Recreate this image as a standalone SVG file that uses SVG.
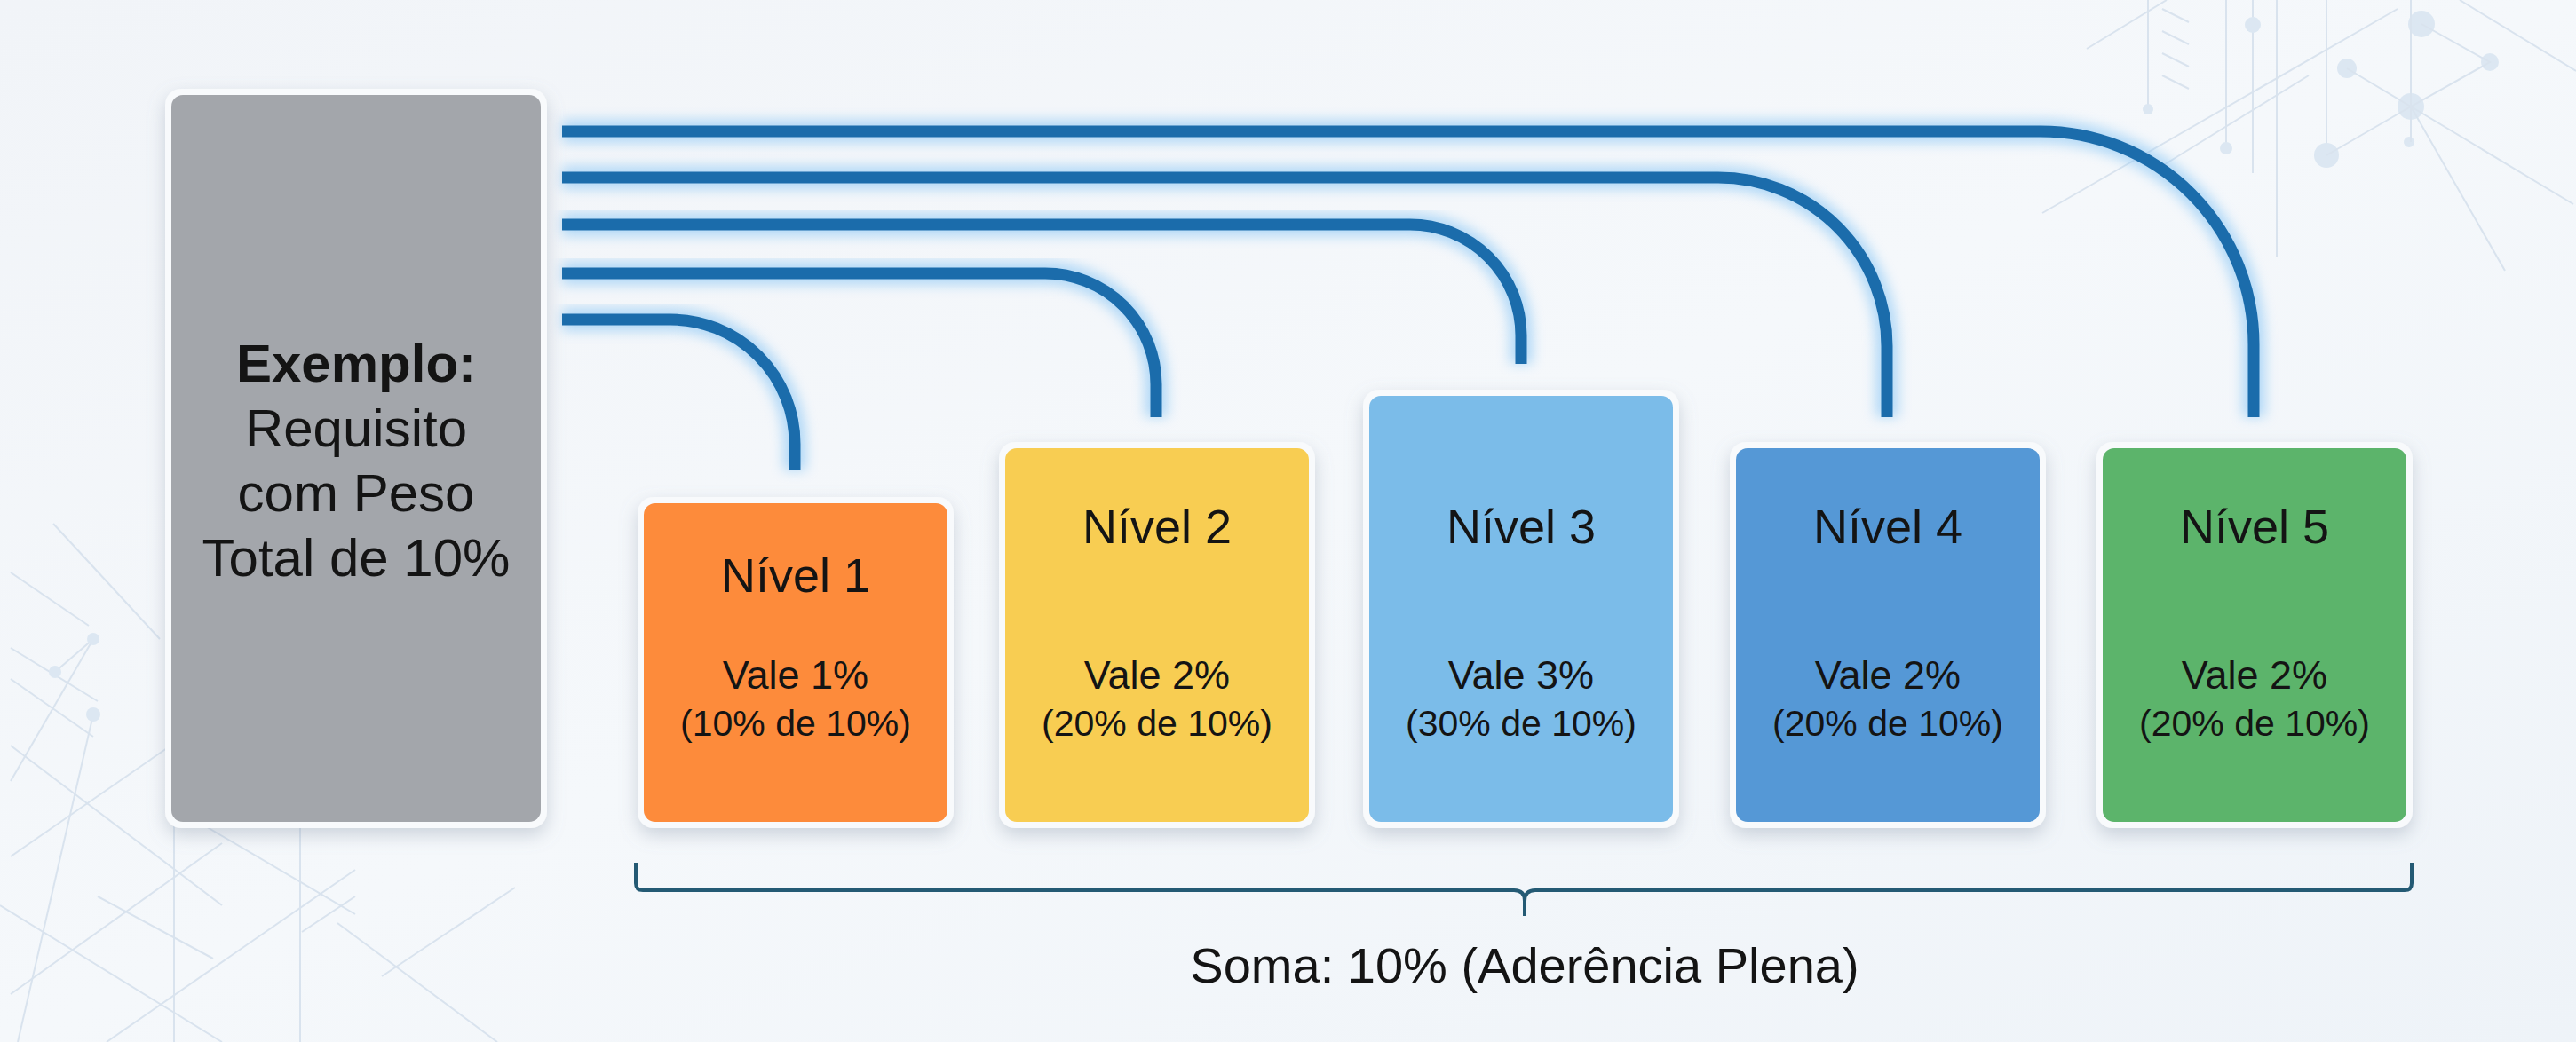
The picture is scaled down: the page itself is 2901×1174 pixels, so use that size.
<svg xmlns="http://www.w3.org/2000/svg" width="2901" height="1174" viewBox="0 0 2901 1174">
<defs>
<linearGradient id="bg" x1="0" y1="0" x2="1" y2="1">
<stop offset="0" stop-color="#f1f4f8"/>
<stop offset="0.5" stop-color="#f5f8fb"/>
<stop offset="1" stop-color="#eef3f8"/>
</linearGradient>
<filter id="shadow" x="-20%" y="-20%" width="140%" height="140%">
<feDropShadow dx="0" dy="8" stdDeviation="10" flood-color="#7f8ea3" flood-opacity="0.35"/>
</filter>
<filter id="glow" x="-10%" y="-10%" width="120%" height="120%">
<feGaussianBlur stdDeviation="7"/>
</filter>
<style>
.deco{stroke:#d9e3ee;stroke-width:2;fill:none}
.dot{fill:#dce7f2}
.rim{fill:#f8fafc;filter:url(#shadow)}
.lbl{font-family:"Liberation Sans",Arial,sans-serif;fill:#141414;text-anchor:middle}
.title{font-size:54px}
.val{font-size:45px}
.sub{font-size:41px}
.main{font-size:60px}
.conn{fill:none;stroke:#1b6cab;stroke-width:13}
.connglow{fill:none;stroke:#7cc0f4;stroke-width:26;opacity:0.55;filter:url(#glow)}
</style>
</defs>
<rect x="0" y="0" width="2901" height="1174" fill="url(#bg)"/>
<g id="background">
<line class="deco" x1="2419" y1="0" x2="2419" y2="123"/>
<circle class="dot" cx="2419" cy="123" r="6"/>
<line class="deco" x1="2507" y1="0" x2="2507" y2="167"/>
<circle class="dot" cx="2507" cy="167" r="7"/>
<line class="deco" x1="2537" y1="0" x2="2537" y2="195"/>
<circle class="dot" cx="2537" cy="28" r="9"/>
<line class="deco" x1="2564" y1="0" x2="2564" y2="290"/>
<line class="deco" x1="2620" y1="0" x2="2620" y2="175"/>
<circle class="dot" cx="2620" cy="175" r="14"/>
<circle class="dot" cx="2727" cy="27" r="15"/>
<circle class="dot" cx="2715" cy="120" r="15"/>
<circle class="dot" cx="2643" cy="77" r="11"/>
<circle class="dot" cx="2804" cy="70" r="10"/>
<circle class="dot" cx="2713" cy="160" r="6"/>
<polyline class="deco" points="2643,77 2715,120 2804,70 2727,27"/>
<line class="deco" x1="2715" y1="120" x2="2620" y2="175"/>
<line class="deco" x1="2715" y1="0" x2="2715" y2="160"/>
<line class="deco" x1="2715" y1="120" x2="2821" y2="305"/>
<line class="deco" x1="2715" y1="120" x2="2898" y2="230"/>
<line class="deco" x1="2350" y1="55" x2="2440" y2="0"/>
<line class="deco" x1="2300" y1="240" x2="2700" y2="10"/>
<line class="deco" x1="2430" y1="190" x2="2600" y2="85"/>
<line class="deco" x1="2770" y1="0" x2="2901" y2="80"/>
<line class="deco" x1="2435" y1="10" x2="2465" y2="25"/>
<line class="deco" x1="2435" y1="35" x2="2465" y2="50"/>
<line class="deco" x1="2435" y1="60" x2="2465" y2="75"/>
<line class="deco" x1="2435" y1="85" x2="2465" y2="100"/>
<line class="deco" x1="60" y1="590" x2="180" y2="720"/>
<line class="deco" x1="12" y1="645" x2="100" y2="705"/>
<line class="deco" x1="12" y1="730" x2="110" y2="790"/>
<line class="deco" x1="12" y1="765" x2="105" y2="830"/>
<line class="deco" x1="62" y1="757" x2="105" y2="720"/>
<line class="deco" x1="105" y1="720" x2="12" y2="880"/>
<line class="deco" x1="105" y1="805" x2="20" y2="1174"/>
<line class="deco" x1="12" y1="840" x2="250" y2="1020"/>
<line class="deco" x1="12" y1="965" x2="250" y2="800"/>
<line class="deco" x1="12" y1="1120" x2="250" y2="950"/>
<line class="deco" x1="0" y1="1020" x2="250" y2="1174"/>
<line class="deco" x1="196" y1="880" x2="196" y2="1174"/>
<line class="deco" x1="338" y1="900" x2="338" y2="1174"/>
<line class="deco" x1="120" y1="1174" x2="400" y2="980"/>
<line class="deco" x1="230" y1="930" x2="400" y2="1030"/>
<line class="deco" x1="340" y1="1050" x2="400" y2="1010"/>
<line class="deco" x1="110" y1="1010" x2="240" y2="1080"/>
<line class="deco" x1="580" y1="1000" x2="430" y2="1100"/>
<line class="deco" x1="380" y1="1040" x2="560" y2="1174"/>
<circle class="dot" cx="62" cy="757" r="7"/>
<circle class="dot" cx="105" cy="720" r="7"/>
<circle class="dot" cx="105" cy="805" r="8"/>
</g>
<g id="connectors">
<g id="glows">
<path class="connglow" d="M633,360 H755 A140,140 0 0 1 895,500 V530"/>
<path class="connglow" d="M633,308 H1177 A125,125 0 0 1 1302,433 V470"/>
<path class="connglow" d="M633,253 H1588 A125,125 0 0 1 1713,378 V410"/>
<path class="connglow" d="M633,200 H1935 A190,190 0 0 1 2125,390 V470"/>
<path class="connglow" d="M633,148 H2298 A240,240 0 0 1 2538,388 V470"/>
</g>
<path class="conn" d="M633,360 H755 A140,140 0 0 1 895,500 V530"/>
<path class="conn" d="M633,308 H1177 A125,125 0 0 1 1302,433 V470"/>
<path class="conn" d="M633,253 H1588 A125,125 0 0 1 1713,378 V410"/>
<path class="conn" d="M633,200 H1935 A190,190 0 0 1 2125,390 V470"/>
<path class="conn" d="M633,148 H2298 A240,240 0 0 1 2538,388 V470"/>
</g>
<g id="node-requisito">
<rect class="rim" x="186" y="100" width="430" height="833" rx="18"/>
<rect x="193" y="107" width="416" height="819" rx="13" fill="#a3a6ab"/>
<text class="lbl main" x="401" y="430" font-weight="bold" font-size="59">Exemplo:</text>
<text class="lbl main" x="401" y="503">Requisito</text>
<text class="lbl main" x="401" y="576">com Peso</text>
<text class="lbl main" x="401" y="649">Total de 10%</text>
</g>
<g id="node-nivel1">
<rect class="rim" x="718" y="560" width="356" height="373" rx="18"/>
<rect x="725" y="567" width="342" height="359" rx="13" fill="#fd8b3b"/>
<text class="lbl title" x="896" y="667">Nível 1</text>
<text class="lbl val" x="896" y="776">Vale 1%</text>
<text class="lbl sub" x="896" y="829">(10% de 10%)</text>
</g>
<g id="node-nivel2">
<rect class="rim" x="1125" y="498" width="356" height="435" rx="18"/>
<rect x="1132" y="505" width="342" height="421" rx="13" fill="#f8cd52"/>
<text class="lbl title" x="1303" y="612">Nível 2</text>
<text class="lbl val" x="1303" y="776">Vale 2%</text>
<text class="lbl sub" x="1303" y="829">(20% de 10%)</text>
</g>
<g id="node-nivel3">
<rect class="rim" x="1535" y="439" width="356" height="494" rx="18"/>
<rect x="1542" y="446" width="342" height="480" rx="13" fill="#7bbce9"/>
<text class="lbl title" x="1713" y="612">Nível 3</text>
<text class="lbl val" x="1713" y="776">Vale 3%</text>
<text class="lbl sub" x="1713" y="829">(30% de 10%)</text>
</g>
<g id="node-nivel4">
<rect class="rim" x="1948" y="498" width="356" height="435" rx="18"/>
<rect x="1955" y="505" width="342" height="421" rx="13" fill="#5598d6"/>
<text class="lbl title" x="2126" y="612">Nível 4</text>
<text class="lbl val" x="2126" y="776">Vale 2%</text>
<text class="lbl sub" x="2126" y="829">(20% de 10%)</text>
</g>
<g id="node-nivel5">
<rect class="rim" x="2361" y="498" width="356" height="435" rx="18"/>
<rect x="2368" y="505" width="342" height="421" rx="13" fill="#5cb46b"/>
<text class="lbl title" x="2539" y="612">Nível 5</text>
<text class="lbl val" x="2539" y="776">Vale 2%</text>
<text class="lbl sub" x="2539" y="829">(20% de 10%)</text>
</g>
<g id="soma">
<path d="M716,972 V995 Q716,1003 724,1003 H1705 Q1717,1003 1717,1015 V1032 M1717,1015 Q1717,1003 1729,1003 H2708 Q2716,1003 2716,995 V972" fill="none" stroke="#245a74" stroke-width="4"/>
<text class="lbl" x="1717" y="1107" font-size="56">Soma: 10% (Aderência Plena)</text>
</g>
</svg>
